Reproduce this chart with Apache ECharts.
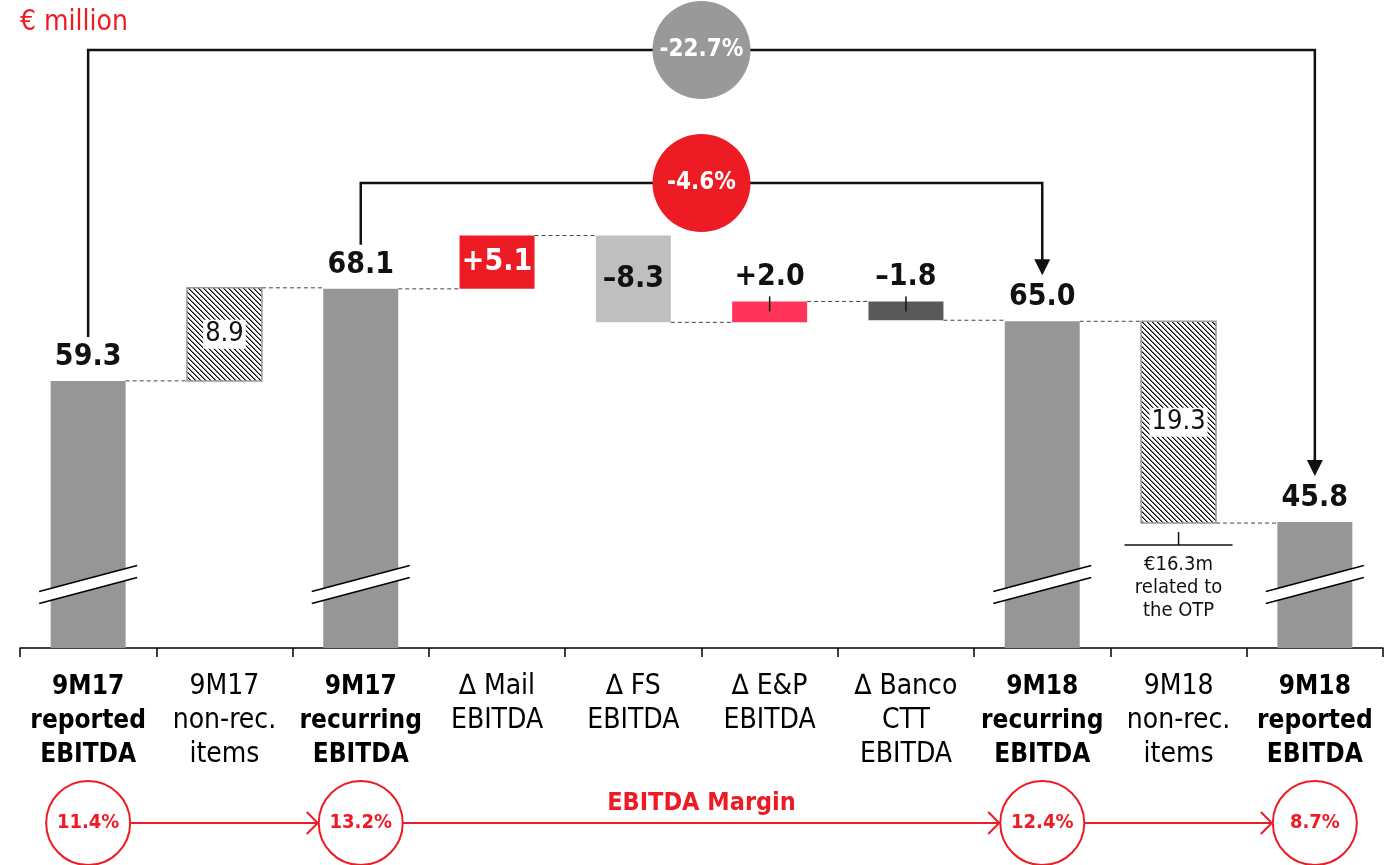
<!DOCTYPE html>
<html>
<head>
<meta charset="utf-8">
<title>EBITDA bridge 9M17 - 9M18</title>
<script src="https://cdn.jsdelivr.net/npm/echarts@6/dist/echarts.min.js"></script>
<style>
html, body { margin: 0; padding: 0; background: #fff; }
#main { width: 1390px; height: 865px; }
</style>
</head>
<body>
<div id="main"></div>
<script>
// ---- data ----
const categories = [
  '9M17\nreported\nEBITDA',
  '9M17\nnon-rec.\nitems',
  '9M17\nrecurring\nEBITDA',
  '\u2206 Mail\nEBITDA',
  '\u2206 FS\nEBITDA',
  '\u2206 E&P\nEBITDA',
  '\u2206 Banco\nCTT\nEBITDA',
  '9M18\nrecurring\nEBITDA',
  '9M18\nnon-rec.\nitems',
  '9M18\nreported\nEBITDA'
];
const values = [59.3, 8.9, 68.1, 5.1, -8.3, 2.0, -1.8, 65.0, -19.3, 45.8];
const kinds = ['total', 'nonrec', 'total', 'delta', 'delta', 'delta', 'delta', 'total', 'nonrec', 'total'];

// change brackets on top
const bracketFrom = [0, 2];
const bracketTo = [9, 7];
const bracketText = ['-22.7%', '-4.6%'];

// EBITDA margin row
const marginIdx = [0, 2, 7, 9];
const marginText = ['11.4%', '13.2%', '12.4%', '8.7%'];

const otpNote = '\u20ac16.3m\nrelated to\nthe OTP';

// ---- layout / style ----
const Y_MIN = 33.75, Y_MAX = 92;
const BREAK_LEVEL = 39.82;
const FONT = '"DejaVu Sans Condensed", "DejaVu Sans", sans-serif';
const RED = '#ED1C24';
const colors = ['#969696', null, '#969696', '#ED1C24', '#BFBFBF', '#FF3458', '#595959', '#969696', null, '#969696'];
const labelColors = ['#111', '#111', '#111', '#fff', '#111', '#111', '#111', '#111', '#111', '#111'];

function hatchPattern() {
  const n = 5;
  const c = document.createElement('canvas');
  c.width = n; c.height = n;
  const g = c.getContext('2d');
  g.fillStyle = '#fff';
  g.fillRect(0, 0, n, n);
  for (let k = 0; k < n; k++) {
    g.fillStyle = '#000';
    g.fillRect(k, k, 1, 1);
    g.fillStyle = 'rgba(0,0,0,0.5)';
    g.fillRect((k + 1) % n, k, 1, 1);
  }
  return { image: c, repeat: 'repeat' };
}
const hatch = hatchPattern();

// waterfall ranges
let level = 0;
const ranges = [];
const levels = [];
values.forEach((v, i) => {
  if (kinds[i] === 'total') {
    ranges.push([Y_MIN, v]);
    level = v;
  } else {
    ranges.push([level, level + v]);
    level = level + v;
  }
  levels.push(level);
});

function labelOf(i) {
  const v = values[i];
  if (kinds[i] === 'delta') return (v > 0 ? '+' : '\u2013') + Math.abs(v).toFixed(1);
  return Math.abs(v).toFixed(1);
}

const barData = ranges.map((r, i) => [i, r[0], r[1]]);
const connData = levels.slice(0, -1).map((l, i) => [i, l]);

const chart = echarts.init(document.getElementById('main'));

const option = {
  animation: false,
  grid: { left: 20, right: 7, top: 39, bottom: 217 },
  xAxis: {
    type: 'category',
    data: categories,
    axisLine: { lineStyle: { color: '#000', width: 1.5 } },
    axisTick: { show: true, alignWithLabel: false, length: 9, lineStyle: { color: '#000', width: 1.5 } },
    axisLabel: {
      interval: 0,
      margin: 22,
      formatter: (val, idx) => {
        const tag = kinds[idx] === 'total' ? 'b' : 'n';
        return val.split('\n').map(s => '{' + tag + '|' + s + '}').join('\n');
      },
      rich: {
        b: { fontFamily: FONT, fontWeight: 'bold', fontSize: 26, color: '#000', lineHeight: 34 },
        n: { fontFamily: FONT, fontSize: 28, color: '#000', lineHeight: 34 }
      }
    }
  },
  yAxis: { type: 'value', min: Y_MIN, max: Y_MAX, show: false },
  series: [
    {
      // dashed connectors between bars
      type: 'custom',
      silent: true,
      data: connData,
      renderItem: (params, api) => {
        const i = api.value(0);
        const w = api.size([1, 0])[0] * 0.55;
        const a = api.coord([i, api.value(1)]);
        const b = api.coord([i + 1, api.value(1)]);
        return {
          type: 'line',
          shape: { x1: a[0] + w / 2, y1: a[1], x2: b[0] - w / 2, y2: a[1] },
          style: { stroke: '#444', lineWidth: 1, lineDash: [4, 3] }
        };
      }
    },
    {
      // waterfall bars
      type: 'custom',
      silent: true,
      data: barData,
      z: 3,
      renderItem: (params, api) => {
        const i = api.value(0);
        const lo = api.coord([i, api.value(1)]);
        const hi = api.coord([i, api.value(2)]);
        const w = api.size([1, 0])[0] * 0.55;
        const cx = lo[0];
        const top = Math.min(lo[1], hi[1]);
        const bot = Math.max(lo[1], hi[1]);
        const kind = kinds[i];
        const children = [];
        if (kind === 'nonrec') {
          children.push({
            type: 'rect',
            shape: { x: cx - w / 2, y: top, width: w, height: bot - top },
            style: { fill: hatch, stroke: '#999', lineWidth: 1.5 }
          });
          children.push({
            type: 'text',
            style: {
              x: cx, y: (top + bot) / 2, text: labelOf(i), fill: '#111',
              font: '27px ' + FONT, align: 'center', verticalAlign: 'middle',
              backgroundColor: '#fff', padding: [2, 2, 0, 2]
            }
          });
        } else {
          children.push({
            type: 'rect',
            shape: { x: cx - w / 2, y: top, width: w, height: bot - top },
            style: { fill: colors[i] }
          });
          let ly;
          if (kind === 'total' || i === 5 || i === 6) ly = top - 24;
          else ly = (top + bot) / 2;
          children.push({
            type: 'text',
            style: {
              x: cx, y: ly, text: labelOf(i), fill: labelColors[i],
              font: 'bold 30px ' + FONT, align: 'center', verticalAlign: 'middle'
            }
          });
          if (i === 5 || i === 6) {
            children.push({
              type: 'line',
              shape: { x1: cx, y1: top - 5, x2: cx, y2: top + 10 },
              style: { stroke: '#111', lineWidth: 1.5 }
            });
          }
        }
        if (kind === 'total') {
          const by = api.coord([i, BREAK_LEVEL])[1];
          const hw = 49, rise = 13, gap = 6;
          children.push({
            type: 'polygon',
            shape: { points: [[cx - hw, by + rise - gap], [cx + hw, by - rise - gap], [cx + hw, by - rise + gap], [cx - hw, by + rise + gap]] },
            style: { fill: '#fff' }
          });
          children.push({
            type: 'line',
            shape: { x1: cx - hw, y1: by + rise - gap, x2: cx + hw, y2: by - rise - gap },
            style: { stroke: '#000', lineWidth: 1.5 }
          });
          children.push({
            type: 'line',
            shape: { x1: cx - hw, y1: by + rise + gap, x2: cx + hw, y2: by - rise + gap },
            style: { stroke: '#000', lineWidth: 1.5 }
          });
        }
        return { type: 'group', children: children };
      }
    }
  ]
};

chart.setOption(option);

// ---- annotations placed through the axes ----
function px(i, v) { return chart.convertToPixel({ gridIndex: 0 }, [i, v]); }

const graphics = [];
graphics.push({
  type: 'text', left: 20, top: 9,
  style: { text: '\u20ac million', fill: RED, font: '28px ' + FONT }
});

const BRACKET_Y = [50, 183];
const bracketFill = ['#999999', RED];
bracketFrom.forEach((f, k) => {
  const t = bracketTo[k];
  const a = px(f, values[f]);
  const b = px(t, values[t]);
  const y = BRACKET_Y[k];
  const yStart = a[1] - 44;
  const yTip = b[1] - 46;
  graphics.push({
    type: 'polyline', z: 10,
    shape: { points: [[a[0], yStart], [a[0], y], [b[0], y], [b[0], yTip - 14]] },
    style: { stroke: '#111', lineWidth: 2.5, fill: null }
  });
  graphics.push({
    type: 'polygon', z: 10,
    shape: { points: [[b[0] - 8, yTip - 16], [b[0] + 8, yTip - 16], [b[0], yTip]] },
    style: { fill: '#111' }
  });
  const mx = (a[0] + b[0]) / 2;
  graphics.push({
    type: 'circle', z: 11,
    shape: { cx: mx, cy: y, r: 49 },
    style: { fill: bracketFill[k] }
  });
  graphics.push({
    type: 'text', z: 12, x: mx, y: y,
    style: { text: bracketText[k], fill: '#fff', font: 'bold 24px ' + FONT, align: 'center', verticalAlign: 'middle' }
  });
});

// OTP note under the 9M18 non-rec. items bar
const otp = px(8, levels[8]);
graphics.push({
  type: 'polyline', z: 10,
  shape: { points: [[otp[0] - 54, otp[1] + 22], [otp[0] + 54, otp[1] + 22]] },
  style: { stroke: '#111', lineWidth: 1.5, fill: null }
});
graphics.push({
  type: 'line', z: 10,
  shape: { x1: otp[0], y1: otp[1] + 9, x2: otp[0], y2: otp[1] + 22 },
  style: { stroke: '#111', lineWidth: 1.5 }
});
graphics.push({
  type: 'text', z: 10, x: otp[0], y: otp[1] + 30,
  style: { text: otpNote, fill: '#111', font: '20px ' + FONT, align: 'center', verticalAlign: 'top', lineHeight: 23 }
});

// EBITDA margin row
const MY = 823, MR = 42;
const mxs = marginIdx.map(i => px(i, Y_MIN)[0]);
mxs.forEach((x, k) => {
  graphics.push({
    type: 'circle', z: 10,
    shape: { cx: x, cy: MY, r: MR },
    style: { fill: '#fff', stroke: RED, lineWidth: 2 }
  });
  graphics.push({
    type: 'text', z: 11, x: x, y: MY,
    style: { text: marginText[k], fill: RED, font: 'bold 20px ' + FONT, align: 'center', verticalAlign: 'middle' }
  });
  if (k < mxs.length - 1) {
    const x1 = x + MR, x2 = mxs[k + 1] - MR - 1;
    graphics.push({
      type: 'polyline', z: 10,
      shape: { points: [[x1, MY], [x2, MY]] },
      style: { stroke: RED, lineWidth: 2, fill: null }
    });
    graphics.push({
      type: 'polyline', z: 10,
      shape: { points: [[x2 - 11, MY - 11], [x2, MY], [x2 - 11, MY + 11]] },
      style: { stroke: RED, lineWidth: 2, fill: null }
    });
  }
});
graphics.push({
  type: 'text', z: 10, x: (mxs[1] + mxs[2]) / 2, y: 803,
  style: { text: 'EBITDA Margin', fill: RED, font: 'bold 25px ' + FONT, align: 'center', verticalAlign: 'middle' }
});

chart.setOption({ graphic: graphics });
</script>
</body>
</html>
